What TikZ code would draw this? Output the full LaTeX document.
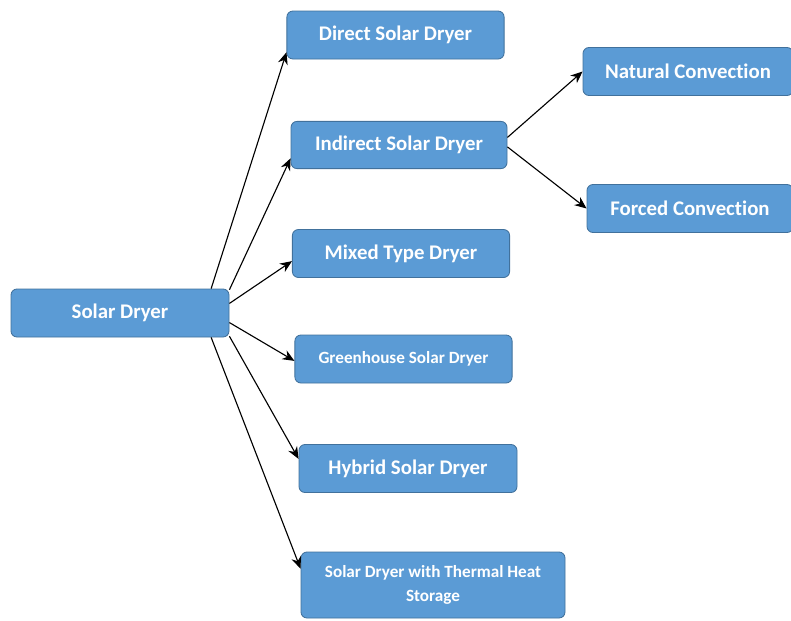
\documentclass[tikz,border=0pt]{standalone}
\usepackage{fontspec}
\setmainfont{Carlito}[Ligatures=NoCommon]
\usetikzlibrary{arrows.meta}
\definecolor{boxfill}{HTML}{5B9BD5}
\definecolor{boxline}{HTML}{41719C}

\begin{document}
\begin{tikzpicture}[>={Stealth[length=3mm,width=2.5mm]},
  box/.style={draw=boxline,fill=boxfill,rounded corners=1.5mm,line width=0.6pt,
    text=white,font=\bfseries\fontsize{14.8}{17}\selectfont,
    minimum width=5.43cm,minimum height=1.2cm,align=center,inner sep=2pt},
  smallbox/.style={box,font=\bfseries\fontsize{12.2}{16.5}\selectfont},
  link/.style={->,line width=0.8pt}]
\useasboundingbox (0,0) rectangle (19.775,-15.5);
% main node
\node[box,minimum width=5.45cm] (solar) at (3.0,-7.825) {Solar Dryer};
% types
\node[box] (direct) at (9.8875,-0.875) {Direct Solar Dryer};
\node[box,minimum width=5.4cm,minimum height=1.18cm] (indirect) at (9.975,-3.625) {Indirect Solar Dryer};
\node[box] (mixed) at (10.025,-6.3375) {Mixed Type Dryer};
\node[smallbox] (greenhouse) at (10.0875,-8.975) {Greenhouse Solar Dryer};
\node[box,minimum width=5.45cm] (hybrid) at (10.2,-11.7125) {Hybrid Solar Dryer};
\node[smallbox,minimum width=6.6cm,minimum height=1.65cm] (thermal) at (10.825,-14.625) {Solar Dryer with Thermal Heat\\Storage};
% sub types of indirect
\node[box,minimum width=5.25cm] (natural) at (17.2,-1.7875) {Natural Convection};
\node[box,minimum width=5.15cm] (forced) at (17.25,-5.2125) {Forced Convection};
% arrows
\draw[link] (solar.15) -- (direct.189);
\draw[link] (solar.12.5) -- (indirect.187.6);
\draw[link] (solar.5) -- (mixed.184.5);
\draw[link] (solar.-5) -- (greenhouse.181);
\draw[link] (solar.-12.5) -- (hybrid.175.5);
\draw[link] (solar.-15.5) -- (thermal.173);
\draw[link] (indirect.4) -- (natural.west);
\draw[link] (indirect.-1) -- (forced.west);
\end{tikzpicture}
\end{document}
